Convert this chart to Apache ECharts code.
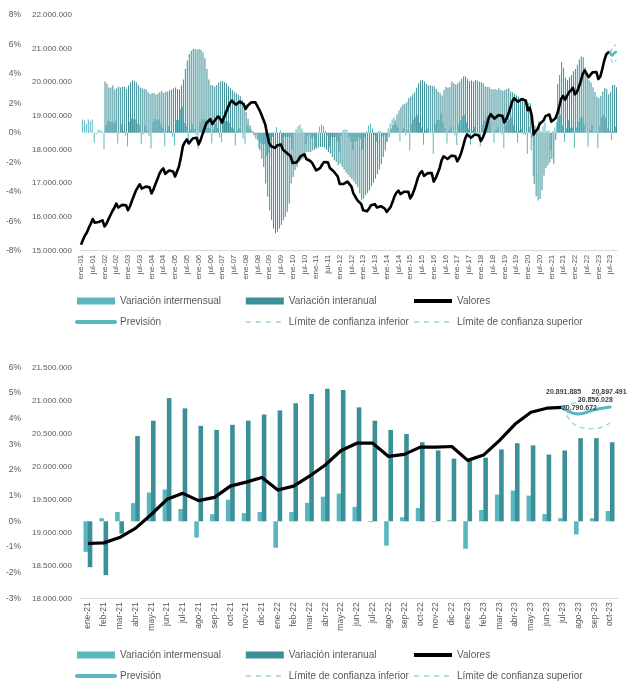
<!DOCTYPE html>
<html><head><meta charset="utf-8">
<script src="https://cdn.jsdelivr.net/npm/echarts/dist/echarts.min.js"></script>
<style>html,body{margin:0;padding:0;background:#fff}#c{width:633px;height:695px}</style>
</head><body><div id="c"></div>
<script>
// ---- categories (ene-01 .. oct-23) ----
const monthNames = ['ene','feb','mar','abr','may','jun','jul','ago','sep','oct','nov','dic'];
const firstYear = 1, lastYear = 23, lastMonth = 9; // oct-23

// ---- Valores (millones), ene-01 .. jul-23 ----
const valores = [
15.18,15.32,15.45,15.54,15.68,15.80,15.94,15.83,15.81,15.85,15.88,15.90,
15.72,15.80,15.93,16.05,16.17,16.27,16.40,16.28,16.27,16.36,16.38,16.35,
16.20,16.32,16.48,16.63,16.78,16.88,16.97,16.84,16.82,16.90,16.92,16.88,
16.70,16.82,16.98,17.12,17.28,17.38,17.44,17.28,17.30,17.38,17.40,17.35,
17.20,17.35,17.50,17.78,18.10,18.22,18.30,18.18,18.22,18.33,18.38,18.35,
18.15,18.28,18.45,18.62,18.78,18.84,18.90,18.76,18.80,18.92,18.98,18.92,
18.80,18.95,19.10,19.25,19.38,19.45,19.50,19.33,19.36,19.42,19.43,19.35,
19.20,19.30,19.35,19.40,19.42,19.40,19.38,19.18,19.05,18.90,18.75,18.45,
18.20,18.10,18.05,18.05,18.12,18.12,18.15,18.00,17.95,17.90,17.85,17.80,
17.60,17.58,17.62,17.70,17.80,17.85,17.86,17.72,17.68,17.66,17.60,17.55,
17.38,17.38,17.45,17.55,17.63,17.65,17.62,17.45,17.40,17.35,17.30,17.20,
16.98,16.95,16.98,17.02,17.05,17.00,16.90,16.70,16.60,16.50,16.45,16.38,
16.20,16.15,16.17,16.25,16.35,16.40,16.38,16.28,16.30,16.32,16.28,16.25,
16.15,16.20,16.30,16.45,16.62,16.72,16.78,16.68,16.70,16.75,16.72,16.75,
16.55,16.65,16.80,16.98,17.18,17.30,17.36,17.22,17.25,17.30,17.30,17.30,
17.05,17.15,17.30,17.45,17.68,17.80,17.85,17.72,17.75,17.82,17.83,17.80,
17.65,17.75,17.90,18.10,18.32,18.45,18.50,18.35,18.38,18.45,18.45,18.42,
18.25,18.35,18.50,18.70,18.92,19.05,19.05,18.92,18.95,19.02,19.02,19.00,
18.80,18.90,19.05,19.22,19.42,19.52,19.55,19.42,19.45,19.50,19.48,19.45,
19.17,19.24,19.01,18.45,18.54,18.61,18.76,18.78,18.86,18.99,19.01,19.04,
18.83,18.84,18.92,19.06,19.27,19.50,19.59,19.48,19.53,19.70,19.76,19.83,
19.64,19.70,19.85,20.02,20.24,20.35,20.35,20.15,20.18,20.29,20.29,20.30,
20.09,20.17,20.39,20.64,20.82,20.88,20.891885,null,null,null
];

// ---- Variación intermensual (%) ----
const intermensual = [
null,0.9,0.83,0.6,0.9,0.77,0.9,-0.68,-0.1,0.2,0.2,0.1,
-1.13,0.51,0.82,0.75,0.75,0.62,0.8,-0.73,-0.06,0.55,0.12,-0.18,
-0.92,0.74,0.98,0.91,0.9,0.6,0.53,-0.77,-0.12,0.48,0.12,-0.24,
-1.07,0.72,0.95,0.82,0.93,0.58,0.35,-0.92,0.12,0.46,0.12,-0.29,
-0.86,0.87,0.86,1.6,1.8,0.66,0.44,-0.66,0.22,0.6,0.27,-0.16,
-1.09,0.72,0.93,0.92,0.86,0.32,0.32,-0.74,0.21,0.64,0.32,-0.32,
-0.63,0.8,0.79,0.79,0.68,0.36,0.26,-0.87,0.16,0.31,0.05,-0.41,
-0.78,0.52,0.26,0.26,0.1,-0.1,-0.1,-1.03,-0.68,-0.79,-0.79,-1.6,
-1.36,-0.55,-0.28,0.02,0.39,0.02,0.17,-0.83,-0.28,-0.28,-0.28,-0.28,
-1.12,-0.11,0.23,0.45,0.56,0.28,0.06,-0.78,-0.23,-0.11,-0.34,-0.28,
-0.97,0.02,0.4,0.57,0.46,0.11,-0.17,-0.96,-0.29,-0.29,-0.29,-0.58,
-1.28,-0.18,0.18,0.24,0.18,-0.29,-0.59,-1.18,-0.6,-0.6,-0.3,-0.43,
-1.1,-0.31,0.12,0.49,0.62,0.31,-0.12,-0.61,0.12,0.12,-0.25,-0.18,
-0.62,0.31,0.62,0.92,1.03,0.6,0.36,-0.6,0.12,0.3,-0.18,0.18,
-1.19,0.6,0.9,1.07,1.18,0.7,0.35,-0.81,0.17,0.29,0.02,0.02,
-1.45,0.59,0.87,0.87,1.32,0.68,0.28,-0.73,0.17,0.39,0.06,-0.17,
-0.84,0.57,0.85,1.12,1.22,0.71,0.27,-0.81,0.16,0.38,0.02,-0.16,
-0.92,0.55,0.82,1.08,1.18,0.69,0.02,-0.68,0.16,0.37,0.02,-0.1,
-1.05,0.53,0.79,0.89,1.04,0.51,0.15,-0.66,0.15,0.26,-0.1,-0.15,
-1.44,0.37,-1.2,-2.95,0.49,0.38,0.81,0.11,0.43,0.69,0.11,0.16,
-1.19,0.12,0.36,0.71,1.12,1.24,0.48,-0.63,0.28,0.84,0.32,0.36,
-1.03,0.36,0.72,0.96,1.08,0.56,-0.03,-0.95,0.16,0.52,-0.02,0.04,
-1.07,0.44,1.04,1.2,1.0,0.28,0.12,-0.51,0.12,0.4
];

// ---- Variación interanual (%) ----
const interanual = [
null,null,null,null,null,null,null,null,null,null,null,null,
3.47,3.33,3.06,3.06,3.2,2.93,3.02,3.11,3.06,3.11,3.11,2.97,
3.2,3.42,3.56,3.51,3.42,3.24,3.06,3.02,2.97,2.93,2.75,2.61,
2.7,2.7,2.57,2.66,2.75,2.84,2.7,2.79,2.79,2.88,2.93,3.02,
3.06,2.97,2.93,3.2,3.6,4.32,4.89,5.34,5.56,5.68,5.68,5.63,
5.68,5.63,5.45,5.05,4.32,3.6,3.24,3.2,3.11,3.24,3.38,3.47,
3.51,3.42,3.33,3.15,3.02,2.88,2.75,2.66,2.57,2.48,2.21,1.85,
1.4,0.95,0.5,0.09,-0.18,-0.41,-0.52,-1.19,-1.76,-2.32,-3.45,-4.35,
-5.25,-5.93,-6.49,-6.82,-6.71,-6.49,-6.26,-5.93,-5.7,-5.36,-4.8,-3.45,
-3.0,-2.55,-2.32,-1.98,-1.87,-1.76,-1.42,-1.31,-1.31,-1.31,-1.19,-1.15,
-1.08,-1.01,-0.97,-0.97,-1.01,-1.15,-1.31,-1.42,-1.64,-1.87,-1.98,-2.21,
-2.1,-2.3,-2.5,-2.7,-2.85,-3.0,-3.15,-3.3,-3.5,-3.7,-4.12,-4.57,
-4.46,-4.23,-4.08,-3.9,-3.63,-3.4,-3.11,-2.82,-2.5,-2.14,-1.64,-1.19,
-0.63,-0.29,0.27,0.5,0.83,1.24,1.51,1.73,1.91,1.96,2.07,2.36,
2.45,2.59,2.75,3.04,3.36,3.54,3.58,3.47,3.31,3.2,3.2,3.18,
3.13,2.97,2.8,2.68,2.52,2.9,3.09,3.04,3.09,3.47,3.36,3.27,
3.36,3.49,3.65,3.83,3.81,3.65,3.49,3.54,3.47,3.58,3.54,3.47,
3.42,3.36,3.13,3.09,3.09,2.97,2.93,2.97,2.9,3.02,2.9,2.86,
2.9,2.97,3.02,2.79,2.75,2.64,2.52,2.45,2.36,2.3,2.18,2.07,
2.0,2.0,-0.3,-3.5,-4.3,-4.6,-4.5,-3.9,-2.9,-2.4,-2.2,-2.0,
-1.79,-2.1,-0.48,3.32,3.92,4.8,4.4,3.72,3.56,3.76,3.92,4.16,
4.32,4.6,4.96,5.16,5.12,4.44,3.92,3.56,3.4,3.08,2.76,2.44,
2.36,2.48,2.8,3.04,2.96,2.6,2.76,3.24,3.24,3.08
];

// ---- Previsión y límites (jul-23 .. oct-23), millones ----
const prevision = [20.891885, 20.790672, 20.856028, 20.897491];
const limiteInferior = [20.891885, 20.60, 20.57, 20.66];
const limiteSuperior = [20.891885, 20.98, 21.06, 21.12];
const forecastStart = 270; // jul-23 index
const bottomStart = 240;   // ene-21 index
// label offsets for forecast labels (bottom chart)
const labelOffsets = [[1,-6],[1,3],[1,-1],[-1,-6]];

// ---- build ----
const cats = [];
for (let y = firstYear; y <= lastYear; y++) {
  for (let m = 0; m < 12; m++) {
    if (y === lastYear && m > lastMonth) break;
    cats.push(monthNames[m] + '-' + String(y).padStart(2,'0'));
  }
}
const N = cats.length;
function pad(arr, start) {
  const out = new Array(N).fill(null);
  arr.forEach((v,k) => out[start+k] = v);
  return out;
}
const prevFull = pad(prevision, forecastStart);
const infFull = pad(limiteInferior, forecastStart);
const supFull = pad(limiteSuperior, forecastStart);
const sl = a => a.slice(bottomStart);

function fmtThousands(v) {
  return String(Math.round(v * 1e6)).replace(/\B(?=(\d{3})+(?!\d))/g, '.');
}

const FONT = "'Liberation Sans',Arial,sans-serif";
const TXT = '#595959';
const C_LIGHT = '#5ab7c0';
const C_DARK = '#3b8f97';
const C_DASH = '#96d3da';

const chart = echarts.init(document.getElementById('c'), null, {renderer: 'canvas'});

function yPct(gi, min, max, interval) {
  return {type:'value', gridIndex:gi, position:'left', min, max, interval,
    axisLine:{show:false}, axisTick:{show:false}, splitLine:{show:false},
    axisLabel:{margin:59, color:TXT, fontSize:8.5, fontFamily:FONT, formatter: v => v + '%'}};
}
function yVal(gi, min, max, interval) {
  return {type:'value', gridIndex:gi, position:'left', min, max, interval,
    axisLine:{show:false}, axisTick:{show:false}, splitLine:{show:false},
    axisLabel:{margin:8, color:TXT, fontSize:8, fontFamily:FONT, formatter: fmtThousands}};
}
function xCat(gi, data, interval, fs) {
  return {type:'category', gridIndex:gi, data, boundaryGap:true,
    axisLine:{onZero:false, lineStyle:{color:'#d9d9d9', width:1}}, axisTick:{show:false},
    axisLabel:{rotate:90, interval, margin:4, color:TXT, fontSize:fs, fontFamily:FONT}};
}

const hideSym = {opacity:0};
const legendNames = {
  c1: [{name:'Variación intermensual', icon:'rect'},
       {name:'Previsión', itemStyle:hideSym, lineStyle:{width:4, cap:'round'}}],
  c2: [{name:'Variación interanual', icon:'rect'},
       {name:'Límite de confianza inferior', itemStyle:hideSym, lineStyle:{width:1.6, type:[5,5]}}],
  c3: [{name:'Valores', itemStyle:hideSym, lineStyle:{width:4}},
       {name:'Límite de confianza superior', itemStyle:hideSym, lineStyle:{width:1.6, type:[5,5]}}]
};
function legends(top) {
  const base = {orient:'vertical', top, itemWidth:38, itemHeight:7, itemGap:11,
    textStyle:{color:TXT, fontSize:10, fontFamily:FONT}, selectedMode:false};
  return [
    Object.assign({left:70, data:legendNames.c1}, base),
    Object.assign({left:240, data:legendNames.c2}, base),
    Object.assign({left:407, data:legendNames.c3}, base)
  ];
}

const series = [
  // ---- top ----
  {name:'Variación intermensual', type:'bar', xAxisIndex:0, yAxisIndex:0, data:intermensual,
    barWidth:1, barGap:'0%', itemStyle:{color:C_LIGHT}},
  {name:'Variación interanual', type:'bar', xAxisIndex:0, yAxisIndex:0, data:interanual,
    barWidth:1, barGap:'0%', itemStyle:{color:C_DARK}},
  {name:'Valores', type:'line', xAxisIndex:0, yAxisIndex:1, data:valores, symbol:'none',
    lineStyle:{color:'#000', width:2.6, join:'round'}, itemStyle:{color:'#000'}, z:5},
  {name:'Previsión', type:'line', xAxisIndex:0, yAxisIndex:1, data:prevFull, symbol:'none', smooth:true,
    lineStyle:{color:C_LIGHT, width:2.5, cap:'round'}, itemStyle:{color:C_LIGHT}, z:6},
  {name:'Límite de confianza inferior', type:'line', xAxisIndex:0, yAxisIndex:1, data:infFull, symbol:'none', smooth:true,
    lineStyle:{color:C_DASH, width:1.3, type:[4,3]}, itemStyle:{color:C_DASH}, z:4},
  {name:'Límite de confianza superior', type:'line', xAxisIndex:0, yAxisIndex:1, data:supFull, symbol:'none', smooth:true,
    lineStyle:{color:C_DASH, width:1.3, type:[4,3]}, itemStyle:{color:C_DASH}, z:4},
  // ---- bottom ----
  {name:'Variación intermensual', type:'bar', xAxisIndex:1, yAxisIndex:2, data:sl(intermensual),
    barWidth:4.6, barGap:'-8%', itemStyle:{color:C_LIGHT}},
  {name:'Variación interanual', type:'bar', xAxisIndex:1, yAxisIndex:2, data:sl(interanual),
    barWidth:4.6, barGap:'-8%', itemStyle:{color:C_DARK}},
  {name:'Valores', type:'line', xAxisIndex:1, yAxisIndex:3, data:sl(valores), symbol:'none',
    lineStyle:{color:'#000', width:3.2, join:'round'}, itemStyle:{color:'#000'}, z:5},
  {name:'Previsión', type:'line', xAxisIndex:1, yAxisIndex:3, symbol:'circle', symbolSize:1, showSymbol:true, smooth:true,
    data: sl(prevFull).map((v,k) => {
      const j = k + bottomStart - forecastStart;
      if (v === null) return null;
      return {value:v, label:{show:true, position:'top', offset:labelOffsets[j], distance:5,
        formatter: p => fmtThousands(p.value), fontSize:7, fontWeight:'bold', color:'#404040', fontFamily:FONT}};
    }),
    lineStyle:{color:C_LIGHT, width:3, cap:'round'}, itemStyle:{color:C_LIGHT}, z:6},
  {name:'Límite de confianza inferior', type:'line', xAxisIndex:1, yAxisIndex:3, data:sl(infFull), symbol:'none', smooth:true,
    lineStyle:{color:C_DASH, width:1.3, type:[5,4]}, itemStyle:{color:C_DASH}, z:4},
  {name:'Límite de confianza superior', type:'line', xAxisIndex:1, yAxisIndex:3, data:sl(supFull), symbol:'none', smooth:true,
    lineStyle:{color:C_DASH, width:1.3, type:[5,4]}, itemStyle:{color:C_DASH}, z:4}
];

chart.setOption({
  animation:false,
  textStyle:{fontFamily:FONT},
  grid:[
    {left:80, top:14.7, width:537, height:236},
    {left:80, top:367.3, width:538, height:231}
  ],
  xAxis:[xCat(0, cats, 5, 8), xCat(1, cats.slice(bottomStart), 0, 8.5)],
  yAxis:[yPct(0,-8,8,2), yVal(0,15,22,1), yPct(1,-3,6,1), yVal(1,18,21.5,0.5)],
  legend:[...legends(291), ...legends(645)],
  series
});
</script>
</body></html>
